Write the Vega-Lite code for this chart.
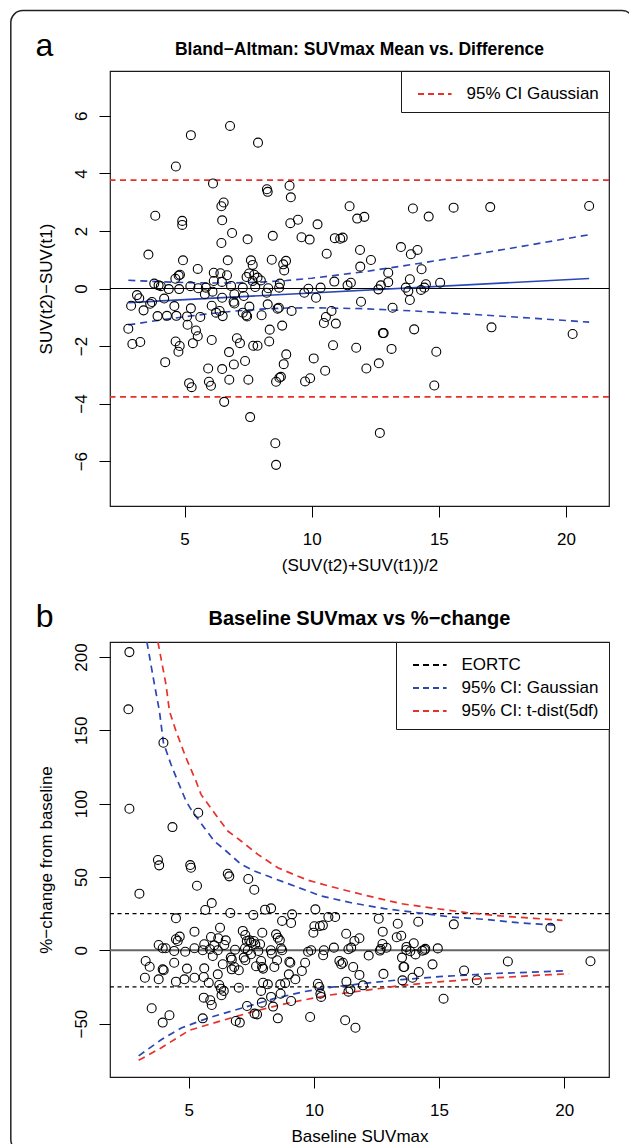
{
  "$schema": "https://vega.github.io/schema/vega-lite/v6.json",
  "autosize": {"type": "pad"},
  "padding": {"left": 9, "top": 9, "right": 0, "bottom": 0},
  "background": "white",
  "config": {
    "font": "Liberation Sans",
    "view": {"stroke": "#1a1a1a", "strokeWidth": 1.2},
    "axis": {"grid": false, "domain": false, "tickColor": "#000", "tickSize": 11, "tickWidth": 1, "labelFont": "Liberation Sans", "labelFontSize": 17, "labelColor": "#000", "titleFont": "Liberation Sans", "titleFontSize": 17, "titleFontWeight": "normal", "titleColor": "#000"},
    "axisX": {"labelPadding": 14, "titlePadding": 10, "labelFlush": false},
    "axisY": {"labelAngle": -90, "labelAlign": "center", "labelBaseline": "alphabetic", "labelPadding": 13, "titlePadding": 17},
    "legend": {"title": null, "orient": "top-right", "offset": 0, "padding": 10, "strokeColor": "#1a1a1a", "fillColor": "white", "cornerRadius": 0, "symbolType": "M -0.5 0 H 2.3", "symbolSize": 576, "symbolStrokeWidth": 1.8, "symbolDash": [6, 4], "labelFont": "Liberation Sans", "labelFontSize": 17, "labelColor": "#000", "labelOffset": 29.5, "rowPadding": 2}
  },
  "bounds": "flush",
  "spacing": 136,
  "resolve": {"scale": {"color": "independent", "x": "independent", "y": "independent"}, "legend": {"color": "independent"}},
  "datasets": {
    "ba": [
      {"x":6.79,"y":5.65},{"x":5.25,"y":5.33},{"x":7.89,"y":5.07},{"x":4.66,"y":4.24},{"x":6.12,"y":3.65},{"x":8.24,"y":3.45},{"x":8.27,"y":3.36},{"x":9.13,"y":3.57},{"x":9.18,"y":3.17},{"x":6.54,"y":2.99},{"x":6.45,"y":2.86},{"x":3.85,"y":2.53},{"x":4.91,"y":2.35},{"x":4.91,"y":2.21},{"x":6.48,"y":2.37},{"x":9.46,"y":2.39},{"x":9.16,"y":2.27},{"x":10.23,"y":2.23},{"x":11.49,"y":2.86},{"x":11.79,"y":2.43},{"x":6.87,"y":1.93},{"x":8.47,"y":1.83},{"x":7.48,"y":1.71},{"x":6.45,"y":1.58},{"x":9.6,"y":1.78},{"x":9.92,"y":1.7},{"x":10.91,"y":1.75},{"x":11.12,"y":1.73},{"x":11.22,"y":1.77},{"x":11.9,"y":1.34},{"x":3.58,"y":1.18},{"x":10.59,"y":1.21},{"x":4.94,"y":0.98},{"x":6.7,"y":0.98},{"x":7.61,"y":0.98},{"x":8.43,"y":1.0},{"x":8.99,"y":0.96},{"x":8.88,"y":0.84},{"x":7.68,"y":0.82},{"x":5.52,"y":0.68},{"x":8.92,"y":0.63},{"x":11.91,"y":0.76},{"x":4.64,"y":0.34},{"x":4.77,"y":0.45},{"x":4.82,"y":0.48},{"x":6.15,"y":0.55},{"x":6.41,"y":0.53},{"x":6.67,"y":0.46},{"x":6.15,"y":0.26},{"x":6.47,"y":0.23},{"x":7.44,"y":0.4},{"x":7.54,"y":0.52},{"x":7.74,"y":0.48},{"x":7.87,"y":0.38},{"x":8.0,"y":0.28},{"x":7.68,"y":0.26},{"x":7.78,"y":0.05},{"x":3.81,"y":0.17},{"x":3.98,"y":0.11},{"x":4.07,"y":0.08},{"x":4.38,"y":-0.02},{"x":4.79,"y":-0.02},{"x":5.23,"y":0.08},{"x":5.54,"y":0.01},{"x":5.84,"y":0.03},{"x":6.83,"y":0.09},{"x":7.29,"y":0.03},{"x":8.29,"y":0.01},{"x":8.75,"y":0.17},{"x":8.72,"y":0.03},{"x":9.87,"y":-0.01},{"x":10.35,"y":0.03},{"x":10.89,"y":0.24},{"x":11.41,"y":0.11},{"x":11.54,"y":0.2},
      {"x":3.13,"y":-0.23},{"x":3.22,"y":-0.34},{"x":2.9,"y":-0.6},{"x":3.39,"y":-0.76},{"x":3.65,"y":-0.53},{"x":3.72,"y":-0.47},{"x":4.2,"y":-0.35},{"x":4.6,"y":-0.61},{"x":3.94,"y":-0.96},{"x":4.31,"y":-0.95},{"x":4.68,"y":-0.95},{"x":5.1,"y":-0.97},{"x":5.25,"y":-0.69},{"x":5.62,"y":-0.99},{"x":5.12,"y":-1.26},{"x":5.45,"y":-1.46},{"x":5.52,"y":-1.66},{"x":2.79,"y":-1.4},{"x":2.95,"y":-1.93},{"x":3.26,"y":-1.86},{"x":4.65,"y":-1.84},{"x":4.81,"y":-2.0},{"x":4.76,"y":-2.2},{"x":5.33,"y":-1.9},{"x":6.07,"y":-1.79},{"x":4.24,"y":-2.56},{"x":5.8,"y":-0.2},{"x":6.1,"y":-0.11},{"x":6.48,"y":-0.32},{"x":6.07,"y":-0.6},{"x":6.24,"y":-0.84},{"x":6.38,"y":-0.78},{"x":6.5,"y":-0.96},{"x":6.96,"y":-0.2},{"x":6.93,"y":-0.46},{"x":6.96,"y":-0.52},{"x":7.33,"y":-0.26},{"x":7.55,"y":-0.63},{"x":7.29,"y":-0.84},{"x":7.43,"y":-0.93},{"x":7.46,"y":-0.97},{"x":8.27,"y":-0.55},{"x":8.23,"y":-0.15},{"x":8.03,"y":-0.93},{"x":8.66,"y":-0.7},{"x":8.71,"y":-0.67},{"x":9.21,"y":-0.78},{"x":8.35,"y":-1.43},{"x":8.33,"y":-1.84},{"x":8.84,"y":-1.29},{"x":7.06,"y":-1.73},{"x":7.18,"y":-1.9},{"x":6.75,"y":-2.21},{"x":7.7,"y":-1.99},{"x":7.87,"y":-1.99},{"x":9.0,"y":-2.29},{"x":8.9,"y":-2.63},{"x":7.38,"y":-2.52},{"x":6.94,"y":-2.64},{"x":5.93,"y":-2.78},{"x":6.48,"y":-2.8},{"x":6.76,"y":-3.17},{"x":7.51,"y":-3.17},{"x":5.18,"y":-3.29},{"x":5.28,"y":-3.43},{"x":5.96,"y":-3.24},{"x":6.04,"y":-3.38},{"x":8.6,"y":-3.24},{"x":8.73,"y":-3.1},{"x":8.79,"y":-3.07},{"x":6.56,"y":-3.94},{"x":7.58,"y":-4.47},{"x":8.57,"y":-5.38},{"x":8.6,"y":-6.13},{"x":9.74,"y":-3.23},{"x":9.94,"y":-3.12},{"x":10.08,"y":-2.43},{"x":10.53,"y":-2.86},{"x":10.84,"y":-1.97},{"x":11.75,"y":-2.06},{"x":10.48,"y":-1.2},{"x":10.56,"y":-0.99},{"x":10.78,"y":-0.78},{"x":10.95,"y":-1.22},{"x":9.71,"y":-0.15},{"x":10.17,"y":-0.32},{"x":11.94,"y":-0.46},
      {"x":12.07,"y":2.49},{"x":12.33,"y":0.99},{"x":13.51,"y":1.44},{"x":13.9,"y":1.19},{"x":14.16,"y":1.34},{"x":13.98,"y":2.78},{"x":14.6,"y":2.5},{"x":15.58,"y":2.81},{"x":17.02,"y":2.83},{"x":20.91,"y":2.87},{"x":13.01,"y":0.55},{"x":14.32,"y":0.67},{"x":13.86,"y":0.32},{"x":13.01,"y":0.22},{"x":12.72,"y":0.11},{"x":12.62,"y":-0.03},{"x":13.7,"y":0.03},{"x":13.8,"y":-0.09},{"x":14.3,"y":-0.05},{"x":14.43,"y":0.03},{"x":14.49,"y":0.15},{"x":15.05,"y":0.2},{"x":13.86,"y":-0.4},
      {"x":13.18,"y":-0.67},{"x":12.8,"y":-1.55},{"x":12.83,"y":-1.55},{"x":14.03,"y":-1.42},{"x":17.07,"y":-1.35},{"x":20.26,"y":-1.58},{"x":13.14,"y":-2.1},{"x":14.9,"y":-2.2},{"x":12.15,"y":-2.78},{"x":12.64,"y":-2.6},{"x":14.82,"y":-3.37},{"x":12.68,"y":-5.02}
    ],
    "baband": [
      {"side":"upper","x":2.79,"y":0.285},{"side":"upper","x":4,"y":0.236},{"side":"upper","x":5,"y":0.207},{"side":"upper","x":6,"y":0.191},{"side":"upper","x":7,"y":0.194},{"side":"upper","x":8,"y":0.222},{"side":"upper","x":9,"y":0.276},{"side":"upper","x":10,"y":0.357},{"side":"upper","x":12,"y":0.575},{"side":"upper","x":14,"y":0.84},{"side":"upper","x":16,"y":1.127},{"side":"upper","x":18,"y":1.424},{"side":"upper","x":20.91,"y":1.87},
      {"side":"lower","x":2.79,"y":-1.265},{"side":"lower","x":4,"y":-1.104},{"side":"lower","x":5,"y":-0.981},{"side":"lower","x":6,"y":-0.873},{"side":"lower","x":7,"y":-0.784},{"side":"lower","x":8,"y":-0.718},{"side":"lower","x":9,"y":-0.68},{"side":"lower","x":10,"y":-0.667},{"side":"lower","x":12,"y":-0.701},{"side":"lower","x":14,"y":-0.78},{"side":"lower","x":16,"y":-0.881},{"side":"lower","x":18,"y":-0.992},{"side":"lower","x":20.91,"y":-1.17}
    ],
    "bafit": [{"x":2.79,"y":-0.49},{"x":20.91,"y":0.35}],
    "balim": [{"series":"95% CI Gaussian","y":3.77},{"series":"95% CI Gaussian","y":-3.77}],
    "pc": [
      {"x":2.63,"y":203.3},{"x":2.59,"y":164.3},{"x":2.63,"y":96.5},{"x":3.99,"y":141.5},{"x":5.38,"y":93.8},{"x":4.35,"y":84.0},{"x":3.77,"y":61.6},{"x":3.82,"y":57.9},{"x":5.06,"y":58.1},{"x":5.09,"y":56.3},{"x":6.56,"y":52.2},{"x":6.62,"y":50.4},{"x":7.38,"y":48.6},
      {"x":5.33,"y":44.0},{"x":7.62,"y":41.3},{"x":3.03,"y":38.6},{"x":5.92,"y":32.2},{"x":5.66,"y":27.5},{"x":6.66,"y":25.4},{"x":7.58,"y":24.1},{"x":8.05,"y":27.7},{"x":8.29,"y":28.6},{"x":8.73,"y":20.0},{"x":9.09,"y":18.6},{"x":9.13,"y":24.5},{"x":10.06,"y":27.9},{"x":4.49,"y":21.8},{"x":4.56,"y":6.3},{"x":4.64,"y":9.3},{"x":4.49,"y":7.5},{"x":5.23,"y":12.7},{"x":5.89,"y":9.1},{"x":6.25,"y":15.4},{"x":6.18,"y":8.2},{"x":6.48,"y":6.8},{"x":5.62,"y":4.1},{"x":6.02,"y":3.4},{"x":6.42,"y":3.6},{"x":3.8,"y":3.6},{"x":3.96,"y":1.4},{"x":4.08,"y":1.4},{"x":4.42,"y":-0.5},{"x":4.86,"y":-1.0},{"x":5.23,"y":1.4},{"x":5.56,"y":0},{"x":5.85,"y":0.7},{"x":5.96,"y":-3.9},{"x":6.16,"y":0},{"x":6.85,"y":0.4},{"x":7.16,"y":13.2},{"x":7.26,"y":10.4},{"x":7.32,"y":6.3},{"x":7.42,"y":6.8},{"x":7.49,"y":5.2},{"x":7.6,"y":6.3},{"x":7.66,"y":4.1},{"x":7.85,"y":4.1},{"x":7.25,"y":1.4},{"x":7.36,"y":0},{"x":7.49,"y":-2.7},{"x":7.2,"y":-5.0},{"x":7.26,"y":-6.8},{"x":7.78,"y":-0.5},{"x":7.94,"y":12.0},{"x":8.49,"y":10.9},{"x":8.56,"y":8.6},{"x":8.64,"y":6.8},{"x":8.28,"y":0},{"x":8.32,"y":-2.3},{"x":8.69,"y":1.4},{"x":8.73,"y":0},{"x":8.53,"y":-6.8},{"x":8.42,"y":-11.4},{"x":7.93,"y":-11.4},{"x":7.97,"y":-12.5},{"x":7.69,"y":-10.9},{"x":7.89,"y":-7.3},{"x":9.02,"y":-7.8},{"x":9.06,"y":-8.5},{"x":9.0,"y":-16.4},{"x":9.26,"y":-19.8},{"x":7.97,"y":-22.1},{"x":8.16,"y":-23.2},{"x":8.66,"y":-23.2},{"x":8.85,"y":-22.5},{"x":9.09,"y":-34.6},{"x":8.29,"y":-31.8},{"x":7.89,"y":-27.7},{"x":9.52,"y":-14.1},{"x":9.65,"y":-8.5},{"x":9.77,"y":-1.0},{"x":9.89,"y":0},{"x":9.98,"y":12.0},{"x":10.02,"y":16.4},{"x":10.24,"y":16.6},{"x":10.36,"y":17.0},{"x":10.58,"y":22.7},{"x":10.85,"y":22.7},{"x":10.4,"y":0},{"x":10.37,"y":-3.4},{"x":10.8,"y":1.8},{"x":10.16,"y":-22.8},{"x":10.22,"y":-25.0},{"x":10.26,"y":-29.6},{"x":10.29,"y":-31.8},{"x":11.02,"y":-7.3},{"x":11.09,"y":-9.5},{"x":11.16,"y":-8.5},{"x":11.29,"y":11.3},{"x":11.3,"y":-21.4},{"x":11.38,"y":0.7},{"x":11.49,"y":1.8},{"x":11.57,"y":-11.4},{"x":11.62,"y":6.3},{"x":11.82,"y":8.2},{"x":11.82,"y":-16.8},{"x":11.46,"y":-26.6},{"x":11.38,"y":-28.2},{"x":3.28,"y":-7.3},{"x":3.44,"y":-11.2},{"x":3.25,"y":-18.7},{"x":3.8,"y":-19.8},{"x":3.96,"y":-13.0},{"x":4.0,"y":-13.6},{"x":4.42,"y":-8.5},{"x":4.49,"y":-21.4},{"x":4.93,"y":-12.5},{"x":4.83,"y":-19.8},{"x":5.23,"y":-18.7},{"x":5.62,"y":-12.3},{"x":5.6,"y":-18.2},{"x":5.8,"y":-22.1},{"x":6.16,"y":-16.4},{"x":6.22,"y":-23.7},{"x":6.29,"y":-26.2},{"x":6.4,"y":-27.7},{"x":6.36,"y":-9.5},{"x":6.68,"y":-5.0},{"x":6.72,"y":-6.4},{"x":6.82,"y":-11.4},{"x":7.0,"y":-13.6},{"x":7.0,"y":-25.5},{"x":6.72,"y":-13.0},{"x":5.6,"y":-32.3},{"x":5.86,"y":-34.1},{"x":5.92,"y":-37.3},{"x":3.52,"y":-39.5},
      {"x":12.59,"y":21.5},{"x":13.35,"y":18.1},{"x":14.17,"y":19.5},{"x":15.59,"y":17.7},{"x":19.45,"y":15.4},{"x":12.75,"y":12.7},
      {"x":3.96,"y":-49.3},{"x":4.23,"y":-44.3},{"x":5.56,"y":-46.4},{"x":6.31,"y":-30.7},{"x":6.88,"y":-48.2},{"x":7.04,"y":-49.3},{"x":7.33,"y":-38.0},{"x":7.63,"y":-43.2},{"x":7.73,"y":-43.7},{"x":7.92,"y":-35.7},{"x":8.37,"y":-38.4},{"x":8.56,"y":-46.4},{"x":8.67,"y":-29.6},{"x":9.85,"y":-45.5},{"x":11.25,"y":-47.7},{"x":11.66,"y":-52.8},{"x":15.18,"y":-33.0},
      {"x":13.31,"y":8.9},{"x":13.49,"y":9.9},{"x":12.74,"y":4.3},{"x":13.99,"y":4.8},{"x":13.7,"y":2.3},{"x":12.9,"y":1.7},{"x":12.67,"y":0.9},{"x":12.64,"y":-0.2},{"x":13.69,"y":0.2},{"x":13.85,"y":-0.65},{"x":14.33,"y":-0.35},{"x":14.42,"y":0.2},{"x":14.45,"y":1.0},{"x":14.95,"y":1.3},{"x":12.19,"y":-3.6},{"x":14.06,"y":-2.8},{"x":13.52,"y":-5.0},{"x":13.58,"y":-11.4},{"x":13.61,"y":-11.4},{"x":14.74,"y":-9.6},{"x":17.75,"y":-7.6},{"x":21.05,"y":-7.5},{"x":14.19,"y":-14.8},{"x":16.0,"y":-13.75},{"x":13.54,"y":-20.5},{"x":13.94,"y":-18.7},{"x":16.51,"y":-20.4},{"x":12.78,"y":-16.1},{"x":11.96,"y":-23.9}
    ],
    "pcurves": [
      {"series":"95% CI: Gaussian","side":"upper","x":3.33,"y":210.2},{"series":"95% CI: Gaussian","side":"upper","x":3.63,"y":181.3},{"series":"95% CI: Gaussian","side":"upper","x":3.83,"y":163.1},{"series":"95% CI: Gaussian","side":"upper","x":3.99,"y":141.5},{"series":"95% CI: Gaussian","side":"upper","x":4.29,"y":126.8},{"series":"95% CI: Gaussian","side":"upper","x":4.56,"y":115.4},{"series":"95% CI: Gaussian","side":"upper","x":4.89,"y":101.8},{"series":"95% CI: Gaussian","side":"upper","x":5.09,"y":96.1},{"series":"95% CI: Gaussian","side":"upper","x":5.62,"y":83.6},{"series":"95% CI: Gaussian","side":"upper","x":6.02,"y":74.5},{"series":"95% CI: Gaussian","side":"upper","x":6.42,"y":68.8},{"series":"95% CI: Gaussian","side":"upper","x":7.09,"y":58.6},{"series":"95% CI: Gaussian","side":"upper","x":7.62,"y":54.1},{"series":"95% CI: Gaussian","side":"upper","x":8.16,"y":50.6},{"series":"95% CI: Gaussian","side":"upper","x":9.22,"y":43.8},{"series":"95% CI: Gaussian","side":"upper","x":10.29,"y":37.0},{"series":"95% CI: Gaussian","side":"upper","x":11.49,"y":32.4},{"series":"95% CI: Gaussian","side":"upper","x":12.82,"y":28.4},{"series":"95% CI: Gaussian","side":"upper","x":14.15,"y":25.6},{"series":"95% CI: Gaussian","side":"upper","x":15.48,"y":22.7},{"series":"95% CI: Gaussian","side":"upper","x":16.81,"y":21.1},{"series":"95% CI: Gaussian","side":"upper","x":18.15,"y":18.8},{"series":"95% CI: Gaussian","side":"upper","x":19.61,"y":17.2},
      {"series":"95% CI: t-dist(5df)","side":"upper","x":3.77,"y":210.2},{"series":"95% CI: t-dist(5df)","side":"upper","x":4.09,"y":181.3},{"series":"95% CI: t-dist(5df)","side":"upper","x":4.23,"y":163.1},{"series":"95% CI: t-dist(5df)","side":"upper","x":4.49,"y":149.5},{"series":"95% CI: t-dist(5df)","side":"upper","x":4.89,"y":131.3},{"series":"95% CI: t-dist(5df)","side":"upper","x":5.29,"y":115.4},{"series":"95% CI: t-dist(5df)","side":"upper","x":5.49,"y":106.3},{"series":"95% CI: t-dist(5df)","side":"upper","x":6.02,"y":93.8},{"series":"95% CI: t-dist(5df)","side":"upper","x":6.56,"y":81.3},{"series":"95% CI: t-dist(5df)","side":"upper","x":7.09,"y":74.5},{"series":"95% CI: t-dist(5df)","side":"upper","x":7.76,"y":65.4},{"series":"95% CI: t-dist(5df)","side":"upper","x":8.56,"y":56.3},{"series":"95% CI: t-dist(5df)","side":"upper","x":9.22,"y":51.5},{"series":"95% CI: t-dist(5df)","side":"upper","x":9.76,"y":47.8},{"series":"95% CI: t-dist(5df)","side":"upper","x":10.56,"y":44.0},{"series":"95% CI: t-dist(5df)","side":"upper","x":11.89,"y":38.2},{"series":"95% CI: t-dist(5df)","side":"upper","x":13.48,"y":31.8},{"series":"95% CI: t-dist(5df)","side":"upper","x":14.81,"y":28.6},{"series":"95% CI: t-dist(5df)","side":"upper","x":16.14,"y":25.6},{"series":"95% CI: t-dist(5df)","side":"upper","x":17.47,"y":23.4},{"series":"95% CI: t-dist(5df)","side":"upper","x":18.8,"y":21.8},{"series":"95% CI: t-dist(5df)","side":"upper","x":19.93,"y":20.4},
      {"series":"95% CI: Gaussian","side":"lower","x":3.0,"y":-72.0},{"series":"95% CI: Gaussian","side":"lower","x":3.9,"y":-61.0},{"series":"95% CI: Gaussian","side":"lower","x":4.7,"y":-53.0},{"series":"95% CI: Gaussian","side":"lower","x":5.8,"y":-46.0},{"series":"95% CI: Gaussian","side":"lower","x":7.1,"y":-39.5},{"series":"95% CI: Gaussian","side":"lower","x":8.4,"y":-33.0},{"series":"95% CI: Gaussian","side":"lower","x":9.6,"y":-28.2},{"series":"95% CI: Gaussian","side":"lower","x":10.8,"y":-25.0},{"series":"95% CI: Gaussian","side":"lower","x":11.9,"y":-22.8},{"series":"95% CI: Gaussian","side":"lower","x":13.5,"y":-20.0},{"series":"95% CI: Gaussian","side":"lower","x":15.0,"y":-18.0},{"series":"95% CI: Gaussian","side":"lower","x":17.0,"y":-16.0},{"series":"95% CI: Gaussian","side":"lower","x":19.0,"y":-14.7},{"series":"95% CI: Gaussian","side":"lower","x":20.1,"y":-14.0},
      {"series":"95% CI: t-dist(5df)","side":"lower","x":3.0,"y":-75.0},{"series":"95% CI: t-dist(5df)","side":"lower","x":3.91,"y":-66.4},{"series":"95% CI: t-dist(5df)","side":"lower","x":5.03,"y":-54.5},{"series":"95% CI: t-dist(5df)","side":"lower","x":6.31,"y":-48.0},{"series":"95% CI: t-dist(5df)","side":"lower","x":7.63,"y":-41.5},{"series":"95% CI: t-dist(5df)","side":"lower","x":9.1,"y":-35.5},{"series":"95% CI: t-dist(5df)","side":"lower","x":10.6,"y":-30.6},{"series":"95% CI: t-dist(5df)","side":"lower","x":11.9,"y":-27.7},{"series":"95% CI: t-dist(5df)","side":"lower","x":13.5,"y":-24.0},{"series":"95% CI: t-dist(5df)","side":"lower","x":15.0,"y":-21.5},{"series":"95% CI: t-dist(5df)","side":"lower","x":17.0,"y":-19.0},{"series":"95% CI: t-dist(5df)","side":"lower","x":19.0,"y":-17.0},{"series":"95% CI: t-dist(5df)","side":"lower","x":20.2,"y":-16.0}
    ],
    "eortc": [{"series":"EORTC","y":25},{"series":"EORTC","y":-25}],
    "one": [{}]
  },
  "vconcat": [
    {
      "width": 499,
      "height": 435,
      "layer": [
        {
          "data": {"name": "one"},
          "mark": {"type": "rect", "fill": "white", "fillOpacity": 0, "stroke": "#222", "strokeWidth": 1.5, "cornerRadius": 12},
          "encoding": {"x": {"datum": -1.83}, "x2": {"datum": 22.67}, "y": {"datum": 9.66}, "y2": {"datum": -30.0}}
        },
        {
          "data": {"name": "one"},
          "mark": {"type": "text", "fontSize": 32, "font": "Liberation Sans", "baseline": "alphabetic", "align": "center", "color": "#000"},
          "encoding": {"x": {"datum": -0.51}, "y": {"datum": 8.08}, "text": {"value": "a"}}
        },
        {
          "data": {"name": "one"},
          "mark": {"type": "text", "fontSize": 17.5, "fontWeight": "bold", "font": "Liberation Sans", "baseline": "alphabetic", "align": "center", "color": "#000"},
          "encoding": {"x": {"datum": 11.88}, "y": {"datum": 8.116}, "text": {"value": "Bland−Altman: SUVmax Mean vs. Difference"}}
        },
        {
          "data": {"name": "one"},
          "mark": {"type": "rule", "color": "#000", "strokeWidth": 1},
          "encoding": {"y": {"datum": 0}}
        },
        {
          "data": {"name": "balim"},
          "mark": {"type": "rule", "strokeWidth": 1.8, "strokeDash": [6, 4.5]},
          "encoding": {
            "y": {"field": "y", "type": "quantitative"},
            "color": {"field": "series", "type": "nominal", "scale": {"domain": ["95% CI Gaussian"], "range": ["#E8312A"]}}
          }
        },
        {
          "data": {"name": "baband"},
          "mark": {"type": "line", "color": "#2B46B5", "strokeWidth": 1.6, "strokeDash": [7, 5]},
          "encoding": {
            "x": {"field": "x", "type": "quantitative"},
            "y": {"field": "y", "type": "quantitative"},
            "detail": {"field": "side"}
          }
        },
        {
          "data": {"name": "bafit"},
          "mark": {"type": "line", "color": "#2B46B5", "strokeWidth": 1.6},
          "encoding": {
            "x": {"field": "x", "type": "quantitative"},
            "y": {"field": "y", "type": "quantitative"}
          }
        },
        {
          "data": {"name": "ba"},
          "mark": {"type": "point", "shape": "circle", "filled": false, "size": 80, "strokeWidth": 1.1, "color": "#000", "opacity": 1},
          "encoding": {
            "x": {"field": "x", "type": "quantitative", "scale": {"domain": [2.07, 21.69], "nice": false, "zero": false}, "axis": {"values": [5, 10, 15, 20], "title": "(SUV(t2)+SUV(t1))/2"}},
            "y": {"field": "y", "type": "quantitative", "scale": {"domain": [-7.56, 7.56], "nice": false, "zero": false}, "axis": {"values": [-6, -4, -2, 0, 2, 4, 6], "title": "SUV(t2)−SUV(t1)"}}
          }
        }
      ]
    },
    {
      "width": 499,
      "height": 435,
      "layer": [
        {
          "data": {"name": "one"},
          "mark": {"type": "text", "fontSize": 32, "font": "Liberation Sans", "baseline": "alphabetic", "align": "center", "color": "#000"},
          "encoding": {"x": {"datum": -0.76}, "y": {"datum": 220.4}, "text": {"value": "b"}}
        },
        {
          "data": {"name": "one"},
          "mark": {"type": "text", "fontSize": 20, "fontWeight": "bold", "font": "Liberation Sans", "baseline": "alphabetic", "align": "center", "color": "#000"},
          "encoding": {"x": {"datum": 11.82}, "y": {"datum": 221.8}, "text": {"value": "Baseline SUVmax vs %−change"}}
        },
        {
          "data": {"name": "one"},
          "mark": {"type": "rule", "color": "#666", "strokeWidth": 2},
          "encoding": {"y": {"datum": 0}}
        },
        {
          "data": {"name": "eortc"},
          "mark": {"type": "rule", "strokeWidth": 1.2, "strokeDash": [4, 3.5]},
          "encoding": {
            "y": {"field": "y", "type": "quantitative"},
            "color": {"field": "series", "type": "nominal", "scale": {"domain": ["EORTC", "95% CI: Gaussian", "95% CI: t-dist(5df)"], "range": ["#000000", "#2B46B5", "#E8312A"]}}
          }
        },
        {
          "data": {"name": "pcurves"},
          "mark": {"type": "line", "strokeWidth": 1.7, "strokeDash": [7, 5], "clip": true},
          "encoding": {
            "x": {"field": "x", "type": "quantitative"},
            "y": {"field": "y", "type": "quantitative"},
            "detail": {"field": "side"},
            "color": {"field": "series", "type": "nominal", "scale": {"domain": ["EORTC", "95% CI: Gaussian", "95% CI: t-dist(5df)"], "range": ["#000000", "#2B46B5", "#E8312A"]}}
          }
        },
        {
          "data": {"name": "pc"},
          "mark": {"type": "point", "shape": "circle", "filled": false, "size": 80, "strokeWidth": 1.1, "color": "#000", "opacity": 1},
          "encoding": {
            "x": {"field": "x", "type": "quantitative", "scale": {"domain": [1.855, 21.79], "nice": false, "zero": false}, "axis": {"values": [5, 10, 15, 20], "title": "Baseline SUVmax"}},
            "y": {"field": "y", "type": "quantitative", "scale": {"domain": [-86.4, 210.2], "nice": false, "zero": false}, "axis": {"values": [-50, 0, 50, 100, 150, 200], "title": "%−change from baseline"}}
          }
        }
      ]
    }
  ]
}
